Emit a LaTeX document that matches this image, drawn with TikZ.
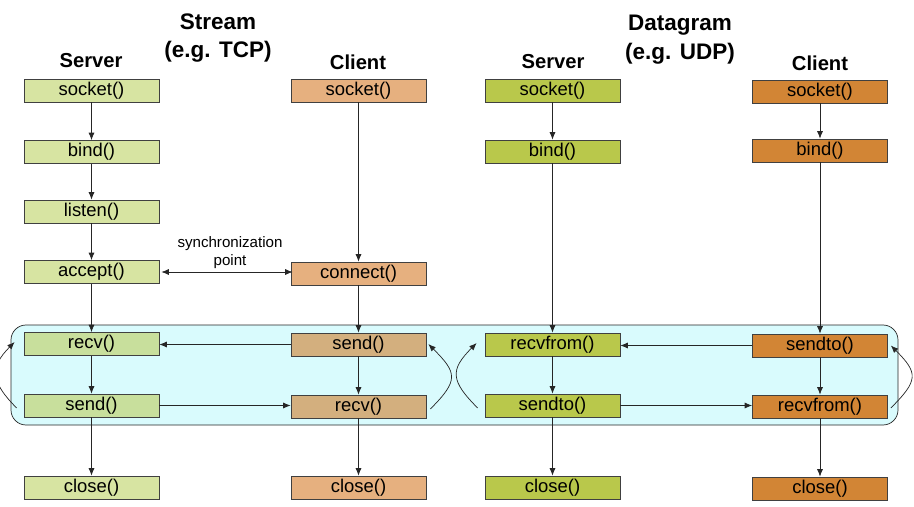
\documentclass[tikz,border=0pt]{standalone}
\usepackage{fontspec}
\setmainfont{Liberation Sans}
\usetikzlibrary{arrows.meta,positioning}
\definecolor{tsrv}{HTML}{D7E4A2}
\definecolor{tsrvio}{HTML}{C8DF9C}
\definecolor{tcli}{HTML}{E6B07F}
\definecolor{tcliio}{HTML}{D3AF7E}
\definecolor{usrv}{HTML}{B9C84B}
\definecolor{ucli}{HTML}{D28535}
\definecolor{loopbg}{HTML}{D9FBFD}

\begin{document}
\begin{tikzpicture}[x=0.02cm, y=-0.02cm, call/.style={draw=black!75, fill=#1, minimum width=2.7cm, minimum height=0.46cm, inner sep=0pt, font=\fontsize{10.5}{12}\selectfont}, arrow/.style={-{Latex[length=1.5mm,width=1.2mm]}, black!85}, head/.style={font=\bfseries\fontsize{11.5}{16.4}\selectfont, align=center}, title/.style={font=\bfseries\fontsize{12.8}{16.4}\selectfont, align=center}]
\useasboundingbox (0,0) rectangle (914,507);
\draw[rounded corners=0.3cm, fill=loopbg, draw=black!85] (11,325) rectangle (898,425);
% headings
\node[title] (stream) at (218,38) {Stream\\(e.g. TCP)};
\node[title] (dgram) at (680,40) {Datagram\\(e.g. UDP)};
\node[head] (hts) at (91,61) {Server};
\node[head] (htc) at (358,62) {Client};
\node[head] (hus) at (553,62) {Server};
\node[head] (huc) at (820,63) {Client};
% stream server
\node[call=tsrv] (tssock) at (91.5,90.5) {socket()};
\node[call=tsrv] (tsbind) at (91.5,152) {bind()};
\node[call=tsrv] (tslisten) at (91.5,211.5) {listen()};
\node[call=tsrv] (tsaccept) at (91.5,272) {accept()};
\node[call=tsrvio] (tsrecv) at (91.5,344) {recv()};
\node[call=tsrvio] (tssend) at (91.5,405.5) {send()};
\node[call=tsrv] (tsclose) at (91.5,487.5) {close()};
% stream client
\node[call=tcli] (tcsock) at (358.5,90.5) {socket()};
\node[call=tcli] (tcconnect) at (358.5,273.5) {connect()};
\node[call=tcliio] (tcsend) at (358.5,344.5) {send()};
\node[call=tcliio] (tcrecv) at (358.5,406.5) {recv()};
\node[call=tcli] (tcclose) at (358.5,487.5) {close()};
% datagram server
\node[call=usrv] (ussock) at (552.5,90.5) {socket()};
\node[call=usrv] (usbind) at (552.5,151.5) {bind()};
\node[call=usrv] (usrecvfrom) at (552.5,344.5) {recvfrom()};
\node[call=usrv] (ussendto) at (552.5,405.5) {sendto()};
\node[call=usrv] (usclose) at (552.5,487.5) {close()};
% datagram client
\node[call=ucli] (ucsock) at (820,91.5) {socket()};
\node[call=ucli] (ucbind) at (820,150.5) {bind()};
\node[call=ucli] (ucsendto) at (820,345.5) {sendto()};
\node[call=ucli] (ucrecvfrom) at (820,406.5) {recvfrom()};
\node[call=ucli] (ucclose) at (820,488.5) {close()};
\node[font=\fontsize{8.6}{10.2}\selectfont, align=center] (sync) at (230,253) {synchronization\\point};
% flow
\draw[arrow] (tssock) -- (tsbind);
\draw[arrow] (tsbind) -- (tslisten);
\draw[arrow] (tslisten) -- (tsaccept);
\draw[arrow] (tsaccept) -- (tsrecv);
\draw[arrow] (tsrecv) -- (tssend);
\draw[arrow] (tssend) -- (tsclose);
\draw[arrow] (tcsock) -- (tcconnect);
\draw[arrow] (tcconnect) -- (tcsend);
\draw[arrow] (tcsend) -- (tcrecv);
\draw[arrow] (tcrecv) -- (tcclose);
\draw[arrow] (ussock) -- (usbind);
\draw[arrow] (usbind) -- (usrecvfrom);
\draw[arrow] (usrecvfrom) -- (ussendto);
\draw[arrow] (ussendto) -- (usclose);
\draw[arrow] (ucsock) -- (ucbind);
\draw[arrow] (ucbind) -- (ucsendto);
\draw[arrow] (ucsendto) -- (ucrecvfrom);
\draw[arrow] (ucrecvfrom) -- (ucclose);
% messages
\draw[{Latex[length=1.5mm,width=1.2mm]}-{Latex[length=1.5mm,width=1.2mm]}, black!85] ([xshift=0.04cm]tsaccept.east) -- ([xshift=0.04cm]tsaccept.east -| tcconnect.west);
\draw[arrow] (tcsend.west) -- (tcsend.west -| tsrecv.east);
\draw[arrow] (tssend.east) -- (tssend.east -| tcrecv.west);
\draw[arrow] (ucsendto.west) -- (ucsendto.west -| usrecvfrom.east);
\draw[arrow] (ussendto.east) -- (ussendto.east -| ucrecvfrom.west);
% loops
\draw[arrow] ([xshift=-0.14cm,yshift=-0.05cm]tssend.west) to[out=135, in=225, looseness=1.4] ([xshift=-0.18cm,yshift=0.04cm]tsrecv.west);
\draw[arrow] ([xshift=0.08cm,yshift=-0.05cm]tcrecv.east) to[out=45, in=-45, looseness=1.6] ([xshift=0.04cm,yshift=0.01cm]tcsend.east);
\draw[arrow] ([xshift=-0.14cm,yshift=-0.05cm]ussendto.west) to[out=135, in=225, looseness=1.5] ([xshift=-0.16cm,yshift=0.03cm]usrecvfrom.west);
\draw[arrow] ([xshift=0.06cm,yshift=-0.03cm]ucrecvfrom.east) to[out=45, in=-45, looseness=1.6] ([xshift=0.06cm]ucsendto.east);
\end{tikzpicture}
\end{document}
